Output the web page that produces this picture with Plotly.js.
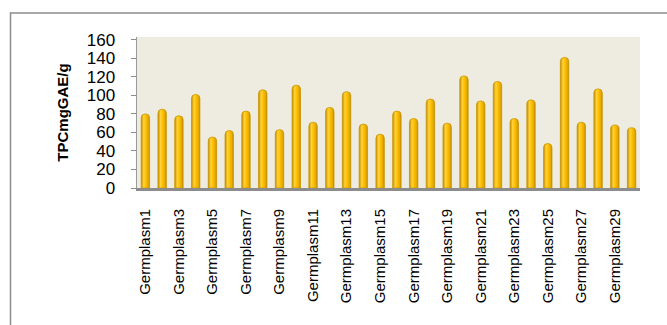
<!DOCTYPE html>
<html>
<head>
<meta charset="utf-8">
<script src="https://cdn.plot.ly/plotly-3.0.1.min.js"></script>
<style>
html,body{margin:0;padding:0;background:#fff;}
#chart{width:667px;height:325px;}
</style>
</head>
<body>
<div id="chart"></div>
<script>
const categories = ["Germplasm1","Germplasm2","Germplasm3","Germplasm4","Germplasm5","Germplasm6","Germplasm7","Germplasm8","Germplasm9","Germplasm10",
  "Germplasm11","Germplasm12","Germplasm13","Germplasm14","Germplasm15","Germplasm16","Germplasm17","Germplasm18","Germplasm19","Germplasm20",
  "Germplasm21","Germplasm22","Germplasm23","Germplasm24","Germplasm25","Germplasm26","Germplasm27","Germplasm28","Germplasm29","Germplasm30"];
const tpcValues = [80, 85, 78, 101, 55, 62, 83, 106, 63, 111, 71, 87, 104, 69, 58, 83, 75, 96, 70, 121, 94, 115, 75, 95, 48, 141, 71, 107, 68, 65];
const tickLabels = ["Germplasm1","Germplasm3","Germplasm5","Germplasm7","Germplasm9","Germplasm11","Germplasm13","Germplasm15","Germplasm17","Germplasm19","Germplasm21","Germplasm23","Germplasm25","Germplasm27","Germplasm29"];
const yTicks = [0,20,40,60,80,100,120,140,160];
const yTitle = "TPCmgGAE/g";

const fontFam = "Liberation Sans, Arial, sans-serif";
const L = 137, R = 27, T = 37, B = 137, W = 667, H = 325;
const pw = W - L - R, ph = H - T - B;
const px = v => (v - L) / pw;
const py = v => (H - B - v) / ph;

Plotly.newPlot('chart', [{
  type: 'bar',
  x: categories,
  y: tpcValues,
  marker: {color: '#FFC000', line: {color: '#C99700', width: 0.8}},
  hoverinfo: 'x+y'
}], {
  width: W, height: H,
  margin: {l: L, r: R, t: T, b: B, pad: 0},
  paper_bgcolor: '#ffffff',
  plot_bgcolor: '#EEECE1',
  bargap: 0.5,
  barcornerradius: 4,
  showlegend: false,
  font: {family: fontFam, color: '#000', size: 15},
  xaxis: {
    type: 'category',
    tickmode: 'array',
    tickvals: tickLabels,
    ticktext: tickLabels,
    tickangle: -90,
    ticks: '',
    ticklabelstandoff: 12,
    tickfont: {family: fontFam, size: 15, color: '#000'},
    showline: true, linecolor: '#8c8c8c', linewidth: 3,
    showgrid: false, zeroline: false
  },
  yaxis: {
    range: [0, 163],
    tickmode: 'array',
    tickvals: yTicks,
    ticks: 'outside', ticklen: 5, tickcolor: '#8c8c8c', tickwidth: 1,
    ticklabelstandoff: 12,
    tickfont: {family: fontFam, size: 17, color: '#000'},
    showline: true, linecolor: '#9a9a9a', linewidth: 1.5,
    showgrid: false, zeroline: false,
    title: {text: yTitle, font: {family: fontFam, size: 15, color: '#000', weight: 'bold'}, standoff: 14}
  },
  shapes: [{
    type: 'rect', xref: 'paper', yref: 'paper',
    x0: px(10.5), x1: px(680), y0: py(340), y1: py(13),
    line: {color: '#8c8c8c', width: 1.5}, fillcolor: 'rgba(0,0,0,0)', layer: 'below'
  }]
}, {displayModeBar: false, staticPlot: true}).then(function (gd) {
  const svgNS = 'http://www.w3.org/2000/svg';
  const svg = gd.querySelector('svg.main-svg');
  let defs = svg.querySelector('defs');
  if (!defs) { defs = document.createElementNS(svgNS, 'defs'); svg.insertBefore(defs, svg.firstChild); }
  const grad = document.createElementNS(svgNS, 'linearGradient');
  grad.setAttribute('id', 'cylGrad');
  grad.setAttribute('x1', '0'); grad.setAttribute('y1', '0');
  grad.setAttribute('x2', '1'); grad.setAttribute('y2', '0');
  [['0', '#C08A00'], ['0.3', '#FFD23C'], ['0.55', '#FFC000'], ['0.85', '#E2A800'], ['1', '#B58200']].forEach(function (s) {
    const st = document.createElementNS(svgNS, 'stop');
    st.setAttribute('offset', s[0]); st.setAttribute('stop-color', s[1]);
    grad.appendChild(st);
  });
  defs.appendChild(grad);
  gd.querySelectorAll('.barlayer .point path').forEach(function (p) {
    p.style.fill = 'url(#cylGrad)';
  });
});
</script>
</body>
</html>
